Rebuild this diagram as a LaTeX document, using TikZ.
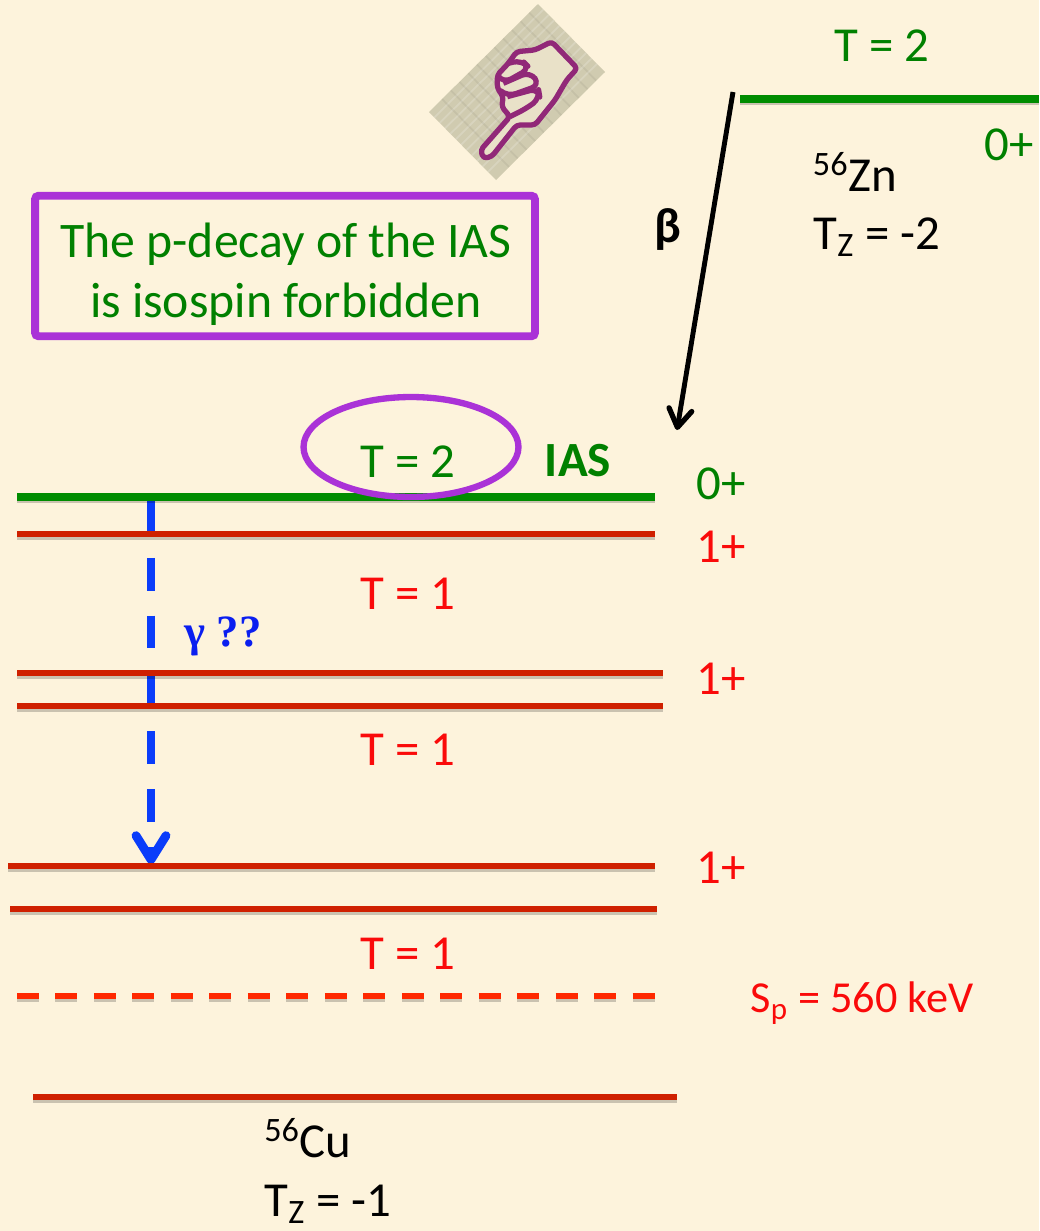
\documentclass[tikz,border=0pt]{standalone}
\usepackage{fontspec}
\setmainfont{Carlito}
\newfontfamily\gammafont{Liberation Serif}
\usepackage{xcolor}
\definecolor{mycream}{RGB}{253,243,220}
\definecolor{mygreen}{RGB}{0,128,0}
\definecolor{myline}{RGB}{0,140,0}
\definecolor{myred}{RGB}{207,32,0}
\definecolor{mydash}{RGB}{255,40,0}
\definecolor{mytext}{RGB}{250,10,10}
\definecolor{mypurple}{RGB}{170,50,215}
\definecolor{myblue}{RGB}{10,60,250}
\definecolor{mygamma}{RGB}{10,30,240}
\definecolor{myhand}{RGB}{145,40,120}
\definecolor{mylinen}{RGB}{208,203,176}
\usetikzlibrary{arrows.meta, shapes.geometric, calc}
\newcommand{\levelline}[3]{%
  \draw[levelshadow] ([yshift=-2.2pt]#2) -- ([yshift=-2.2pt]#3);
  \draw[#1] (#2) -- (#3);}

\begin{document}
\begin{tikzpicture}[
    x=0.02cm, y=-0.02cm,
    levelshadow/.style ={line width=2.9pt, color=black, opacity=0.2},
    greenlevel/.style ={line width=4.5pt, color=myline},
    redlevel/.style ={line width=2.9pt, color=myred},
    dashlevel/.style ={line width=3.1pt, color=mydash},
    leveltext/.style ={font=\fontsize{27.8}{33}\selectfont, inner sep=0pt},
    greenlabel/.style ={leveltext, text=mygreen},
    redlabel/.style ={leveltext, text=mytext},
    blacklabel/.style ={leveltext, text=black},
    boldlabel/.style ={font=\fontsize{28}{33}\selectfont\bfseries, inner sep=0pt},
    framebox/.style ={rectangle, rounded corners=2pt, draw=mypurple, line width=4.5pt,
                   minimum width=10.0cm, minimum height=2.81cm},
    msgtext/.style ={font=\fontsize{28.3}{34}\selectfont, inner sep=0pt,
                   text=mygreen, align=center},
    betaarrow/.style ={line width=2.8pt, color=black,
                   -{Straight Barb[length=3.6mm, width=4.6mm, line width=3pt, round]}},
    gammaarrow/.style ={line width=4pt, color=myblue, dash pattern=on 18.7pt off 14.2pt,
                   -{Straight Barb[length=4.8mm, width=6mm, line width=5pt, round]}},
    handline/.style ={draw=myhand, line width=3pt, line join=round}
]
\useasboundingbox (0,0) rectangle (1039,1231);
\fill[mycream] (0,0) rectangle (1039,1231);

%% --- pointing hand ---
\coordinate (ha) at (538,4);
\coordinate (hb) at (605,72);
\coordinate (hc) at (496,180);
\coordinate (hd) at (429,112);
\fill[mylinen] (ha) -- (hb) -- (hc) -- (hd) -- cycle;
\begin{scope}
\clip (ha) -- (hb) -- (hc) -- (hd) -- cycle;
\foreach \t in {0.08,0.16,...,0.96} {
  \draw[white, opacity=0.18, line width=1pt] ($(ha)!\t!(hb)$) -- ($(hd)!\t!(hc)$);
  \draw[black, opacity=0.05, line width=1pt] ($(ha)!\t!(hd)$) -- ($(hb)!\t!(hc)$);
}
\end{scope}
\begin{scope}[shift={(420,0)}, x=0.00667cm, y=-0.00667cm]
\draw[handline, fill=mycream!55!mylinen, rounded corners=2pt]
    (395,125) -- (472,205) -- (440,240) -- (405,300) -- (345,375) -- (290,375)
    -- (215,470) -- (190,475) -- (182,450) -- (270,350) -- (245,320) -- (250,290)
    -- (232,265) -- (232,225) -- (265,190) -- (290,155) -- (345,150) -- cycle;
\draw[handline, rounded corners=5pt] (265,190) -- (305,180) -- (330,205) -- (250,250) -- (232,225);
\draw[handline, rounded corners=5pt] (250,250) -- (330,215) -- (360,255) -- (262,290) -- (245,275);
\draw[handline, rounded corners=5pt] (262,290) -- (355,265) -- (360,295) -- (320,325) -- (270,350);
\end{scope}

%% --- upper level, parent nucleus ---
\coordinate (zl) at (740,99);
\coordinate (zr) at (1039,99);
\levelline{greenlevel}{zl}{zr}
\node[greenlabel] (t0) at (882,46)  {T = 2};
\node[greenlabel] (s0) at (1009,145) {0+};
\node[blacklabel] (zn) at (855,172) {\textsuperscript{56}Zn};
\node[blacklabel] (tz) at (877,237) {T\textsubscript{Z} = -2};

%% --- message box ---
\node[framebox] (msg) at (285,266) {};
\node[msgtext] (msgt) at (286,274) {The p-decay of the IAS\\is isospin forbidden};

%% --- beta decay ---
\coordinate (ba) at (733,92);
\coordinate (bb) at (677,430);
\draw[betaarrow] (ba) -- (bb);
\node[boldlabel, text=black] (beta) at (668,229) {β};

%% --- gamma transition, under the levels ---
\coordinate (ga) at (151,500);
\coordinate (gb) at (151,864);
\draw[gammaarrow] (ga) -- (gb);
\node[inner sep=0pt, text=mygamma, font=\fontsize{25.5}{30}\selectfont\gammafont\bfseries] (gam) at (223,636) {γ ??};

%% --- levels of the daughter nucleus ---
\coordinate (ial) at (17,497);   \coordinate (iar) at (655,497);
\coordinate (ral) at (17,534);   \coordinate (rar) at (655,534);
\coordinate (rbl) at (17,673);   \coordinate (rbr) at (663,673);
\coordinate (rcl) at (17,706);   \coordinate (rcr) at (663,706);
\coordinate (rdl) at (8,866);    \coordinate (rdr) at (655,866);
\coordinate (rel) at (10,909);   \coordinate (rer) at (657,909);
\coordinate (spl) at (17,996);   \coordinate (spr) at (657,996);
\coordinate (gsl) at (33,1097);  \coordinate (gsr) at (677,1097);
\levelline{redlevel}{ral}{rar}
\levelline{redlevel}{rbl}{rbr}
\levelline{redlevel}{rcl}{rcr}
\levelline{redlevel}{rdl}{rdr}
\levelline{redlevel}{rel}{rer}
\draw[levelshadow, dash pattern=on 12.5pt off 9.4pt] ([yshift=-2.2pt]spl) -- ([yshift=-2.2pt]spr);
\draw[dashlevel, dash pattern=on 12.5pt off 9.4pt] (spl) -- (spr);
\levelline{redlevel}{gsl}{gsr}
\levelline{greenlevel}{ial}{iar}

%% --- level labels ---
\node[draw=mypurple, line width=3.6pt, ellipse, minimum width=4.3cm, minimum height=2.0cm, inner sep=0pt] (ring) at (411,447) {};
\node[greenlabel] (t1) at (408,462) {T = 2};
\node[boldlabel, text=mygreen] (ias) at (578,461) {IAS};
\node[greenlabel] (s1) at (721,484) {0+};
\node[redlabel] (s2) at (721,547) {1+};
\node[redlabel] (t2) at (408,594) {T = 1};
\node[redlabel] (s3) at (721,679) {1+};
\node[redlabel] (t3) at (408,750) {T = 1};
\node[redlabel] (s4) at (721,868) {1+};
\node[redlabel] (t4) at (408,954) {T = 1};
\node[redlabel, font=\fontsize{25.2}{30}\selectfont] (sp) at (862,1003) {S\textsubscript{p} = 560 keV};
\node[blacklabel] (cu) at (308,1138) {\textsuperscript{56}Cu};
\node[blacklabel] (tc) at (328,1204) {T\textsubscript{Z} = -1};
\end{tikzpicture}
\end{document}
